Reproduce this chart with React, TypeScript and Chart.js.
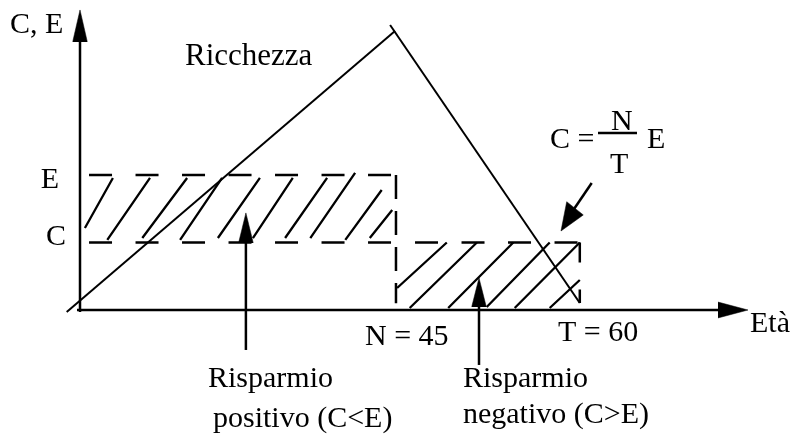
import React, { useEffect, useRef } from "react";
import { Chart, registerables } from "chart.js";

Chart.register(...registerables);

// Schematic units: x = età (posizione schematica), y = consumo / reddito / ricchezza
const E_LEVEL = 100;
const C_LEVEL = 50;
const N_POS = 45;
const T_POS = 71.4;

const xTickValues = [N_POS, T_POS];
const xTickLabels = ["N = 45", "T = 60"];
const yTickValues = [E_LEVEL, C_LEVEL];
const yTickLabels = ["E", "C"];

// Ricchezza (triangolo)
const wealthUp = [
  { x: -1.9, y: -1.5 },
  { x: 45.0, y: 206.7 },
];
const wealthDown = [
  { x: 44.3, y: 211.1 },
  { x: 71.4, y: 5.2 },
];

// Tratteggio risparmio positivo [x0, y0, x1, y1]
const hatchPositive: number[][] = [
  [0.7, 60.7, 4.7, 97.8],
  [3.9, 51.9, 10.0, 97.8],
  [8.9, 53.3, 15.3, 97.8],
  [14.3, 51.9, 20.3, 97.8],
  [19.7, 53.3, 25.7, 97.8],
  [24.7, 53.3, 30.4, 97.8],
  [29.3, 53.3, 35.3, 97.8],
  [32.9, 53.3, 39.3, 101.5],
  [37.9, 51.9, 43.1, 88.9],
  [41.4, 53.3, 44.6, 74.1],
];
// Tratteggio risparmio negativo
const hatchNegative: number[][] = [
  [45.3, 16.3, 52.4, 50.0],
  [47.1, 1.5, 56.7, 50.0],
  [52.6, 1.5, 61.9, 50.0],
  [58.1, 2.2, 67.1, 50.0],
  [62.1, 1.5, 71.4, 50.0],
  [67.1, 1.5, 71.4, 22.2],
];

const annotations = [
  { text: "C, E", x: -10.0, y: 205.2, align: "left", size: 30 },
  { text: "Ricchezza", x: 15.0, y: 181.5, align: "left", size: 31 },
  { text: yTickLabels[0], x: -3.0, y: 90.4, align: "right", size: 30 },
  { text: yTickLabels[1], x: -2.0, y: 48.1, align: "right", size: 30 },
  { text: "C =", x: 67.14, y: 120.0, align: "left", size: 30 },
  { text: "N", x: 75.86, y: 133.6, align: "left", size: 30 },
  { text: "T", x: 75.71, y: 101.5, align: "left", size: 30 },
  { text: "E", x: 81.0, y: 120.0, align: "left", size: 30 },
  { text: "Età", x: 95.71, y: -16.3, align: "left", size: 30 },
  { text: xTickLabels[0], x: 40.71, y: -25.9, align: "left", size: 30 },
  { text: xTickLabels[1], x: 68.29, y: -23.0, align: "left", size: 30 },
  { text: "Risparmio", x: 18.29, y: -57.0, align: "left", size: 30 },
  { text: "positivo (C<E)", x: 19.0, y: -86.7, align: "left", size: 30 },
  { text: "Risparmio", x: 54.71, y: -57.0, align: "left", size: 30 },
  { text: "negativo (C>E)", x: 54.71, y: -83.7, align: "left", size: 30 },
];

const X_MIN = -80 / 7;
const X_MAX = 720 / 7;
const Y_MIN = -131 / 1.3503;
const Y_MAX = 310 / 1.3503;

function segs(list: number[][]) {
  const pts: { x: number; y: number | null }[] = [];
  list.forEach(([x0, y0, x1, y1]) => {
    pts.push({ x: x0, y: y0 }, { x: x1, y: y1 }, { x: x1, y: null });
  });
  return pts;
}

const BLACK = "#000000";

function line(data: any[], width: number, dash: number[] = [], extra: any = {}) {
  return {
    data,
    borderColor: BLACK,
    backgroundColor: BLACK,
    borderWidth: width,
    borderDash: dash,
    pointRadius: 0,
    tension: 0,
    fill: false,
    ...extra,
  };
}

// arrowhead pointing up: edges + base (filled between them)
function upHead(x: number, tip: number, base: number, hw: number) {
  return [
    line([{ x: x - hw, y: base }, { x, y: tip }, { x: x + hw, y: base }], 0.5, [], { fill: "+1" }),
    line([{ x: x - hw, y: base }, { x: x + hw, y: base }], 0),
  ];
}

const textPlugin = {
  id: "schemaText",
  afterDatasetsDraw(chart: any) {
    const { ctx, scales } = chart;
    ctx.save();
    ctx.fillStyle = BLACK;
    ctx.textBaseline = "alphabetic";
    annotations.forEach((a) => {
      ctx.font = `${a.size}px "Liberation Serif", "Times New Roman", serif`;
      ctx.textAlign = a.align;
      ctx.fillText(a.text, scales.x.getPixelForValue(a.x), scales.y.getPixelForValue(a.y));
    });
    ctx.restore();
  },
};

export default function App() {
  const ref = useRef<HTMLCanvasElement | null>(null);

  useEffect(() => {
    if (!ref.current) return;
    const datasets: any[] = [
      // axes
      line([{ x: 0, y: -1.5 }, { x: 0, y: 205 }], 2.5),
      ...upHead(0, 222.2, 198.5, 1.05),
      line([{ x: -0.43, y: 0 }, { x: 92, y: 0 }], 2.5),
      line([{ x: 91.14, y: 5.9 }, { x: 95.43, y: 0 }], 0.5, [], { fill: "+1" }),
      line([{ x: 91.14, y: -5.9 }, { x: 95.43, y: 0 }], 0.5),
      // wealth
      line(wealthUp, 2),
      line(wealthDown, 2),
      // positive saving box
      line([{ x: 1.29, y: E_LEVEL }, { x: 44.57, y: E_LEVEL }], 2.5, [23, 23.5]),
      line([{ x: 1.29, y: C_LEVEL }, { x: 44.57, y: C_LEVEL }], 2.5, [23, 23.5]),
      line([{ x: N_POS + 0.14, y: E_LEVEL }, { x: N_POS + 0.14, y: 5 }], 2.5, [24, 12]),
      line(segs(hatchPositive), 2.3),
      // negative saving box
      line([{ x: 47.86, y: C_LEVEL }, { x: T_POS, y: C_LEVEL }], 2.5, [23, 23.5]),
      line([{ x: T_POS, y: C_LEVEL }, { x: T_POS, y: 5.2 }], 2.5, [20, 27]),
      line(segs(hatchNegative), 2.3),
      // arrows to labels
      line([{ x: 23.7, y: -29.6 }, { x: 23.7, y: 52 }], 2.5),
      ...upHead(23.7, 71.9, 49.6, 1.05),
      line([{ x: 57.0, y: -40.7 }, { x: 57.0, y: 5 }], 2.5),
      ...upHead(57.0, 23.7, 2.2, 1.05),
      line([{ x: 73.1, y: 94.1 }, { x: 70.6, y: 75.0 }], 2.5),
      line([{ x: 68.71, y: 58.5 }, { x: 69.53, y: 80.2 }, { x: 71.9, y: 70.4 }], 0.5, [], { fill: "+1" }),
      line([{ x: 68.71, y: 58.5 }, { x: 71.9, y: 70.4 }], 0.5),
      // fraction bar
      line([{ x: 74.0, y: 131.1 }, { x: 79.57, y: 131.1 }], 2.5),
    ];

    const chart = new Chart(ref.current, {
      type: "line",
      data: { datasets },
      options: {
        animation: false,
        responsive: true,
        maintainAspectRatio: false,
        layout: { padding: 0 },
        plugins: { legend: { display: false }, tooltip: { enabled: false } },
        elements: { point: { radius: 0 } },
        scales: {
          x: { type: "linear", min: X_MIN, max: X_MAX, display: false },
          y: { type: "linear", min: Y_MIN, max: Y_MAX, display: false },
        },
      } as any,
      plugins: [textPlugin],
    });
    return () => chart.destroy();
  }, []);

  return (
    <div style={{ position: "absolute", left: 0, top: 0, width: 800, height: 441, background: "#fff" }}>
      <canvas ref={ref} style={{ display: "block" }} />
    </div>
  );
}
